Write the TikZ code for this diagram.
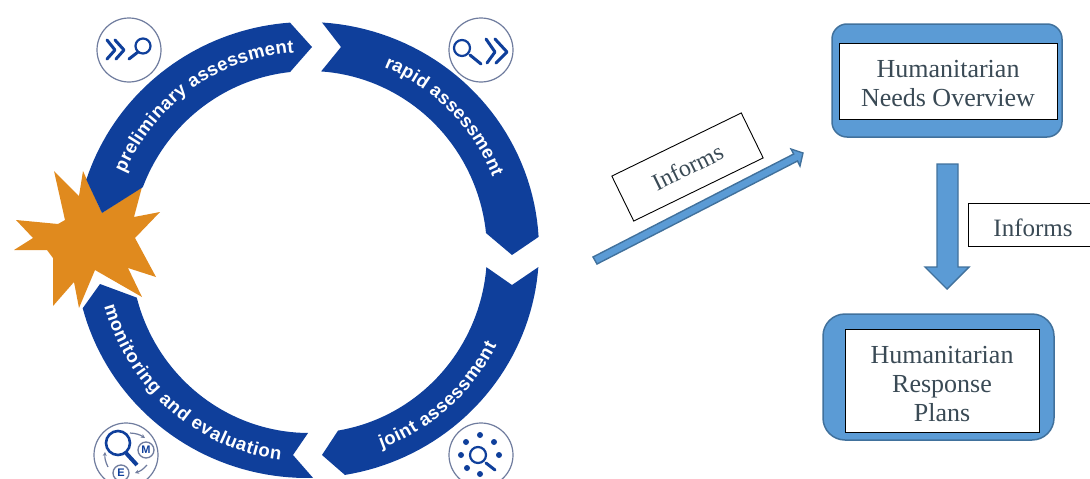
\documentclass[tikz,border=0pt]{standalone}
\usepackage{fontspec}
\setmainfont{Liberation Serif}
\setsansfont{Liberation Sans}
\usetikzlibrary{decorations.text,arrows.meta}
\definecolor{bandblue}{HTML}{0F3F9B}
\definecolor{starorange}{HTML}{E08A1E}
\definecolor{fillblue}{HTML}{5B9BD5}
\definecolor{edgeblue}{HTML}{41719C}
\definecolor{inktext}{HTML}{3A4A55}
\definecolor{ringgrey}{HTML}{6F7C9E}
\newcommand{\bandfont}{\fontsize{18.5}{18.5}\selectfont\sffamily\bfseries}
\tikzset{
  declare function={ox(\t)=307+232*cos(\t); oy(\t)=250-228*sin(\t);
    ix(\t)=309+178*cos(\t); iy(\t)=252-181*sin(\t);
    bx(\t,\r)=308+\r*cos(\t); by(\t,\r)=251-\r*sin(\t);},
  band/.style={fill=bandblue,draw=none},
  bandtext/.style={decoration={text along path,text={|\bandfont|#1},text color=white,text align={fit to path}},decorate},
  iconring/.style={draw=ringgrey,line width=1.2pt,fill=white},
  iconline/.style={draw=bandblue,line width=3pt,line cap=round,line join=round},
  iconglass/.style={draw=bandblue,line width=2.2pt},
  iconsmall/.style={draw=ringgrey,line width=1.3pt},
  iconarc/.style={draw=ringgrey,line width=1.2pt,-{Stealth[length=4pt,width=4pt]}},
  iconletter/.style={text=bandblue,font=\fontsize{11}{11}\selectfont\sffamily\bfseries,inner sep=0pt},
  outerbox/.style={draw=edgeblue,line width=1.5pt,fill=fillblue,rectangle,inner sep=0pt},
  innerbox/.style={draw=black,line width=1pt,fill=white,rectangle,inner sep=0pt,text=inktext,font=\fontsize{26}{29}\selectfont,align=center},
  blockarrow/.style={fill=fillblue,draw=edgeblue,line width=1.4pt,line join=miter},
  textbox/.style={draw=black,line width=0.9pt,fill=white,rectangle,inner sep=0pt,text=inktext,font=\fontsize{25}{28}\selectfont}
}
\begin{document}
\begin{tikzpicture}[x=1pt,y=-1pt,samples=40]
\useasboundingbox (0,0) rectangle (1090,479);
\clip (0,0) rectangle (1090,479);
% star
\fill[starorange] (54,171)--(79,196)--(83,171)--(102,213)--(142,187)--(134,217)--(160,212)--(135,238)--(156,277)--(128,268)--(142,297)--(95,270)--(79,308)--(74,282)--(53,306)--(53,258)--(47,250)--(14,250)--(33,238)--(16,220)--(58,224)--(65,220)--cycle;
% bands
\fill[band] plot[domain=162:94.2] ({ox(\x)},{oy(\x)}) -- (312,47) -- plot[domain=96.1:159] ({ix(\x)},{iy(\x)}) -- (102,213) -- cycle;
\fill[band] plot[domain=86.3:3.3] ({ox(\x)},{oy(\x)}) -- (512,255) -- plot[domain=6:86.1] ({ix(\x)},{iy(\x)}) -- (341,47) -- cycle;
\fill[band] plot[domain=-4.3:-80.6] ({ox(\x)},{oy(\x)}) -- (322,455) -- plot[domain=-80.6:-4.8] ({ix(\x)},{iy(\x)}) -- (512,285) -- cycle;
\fill[band] plot[domain=-88.5:-165.2] ({ox(\x)},{oy(\x)}) -- (100,284) -- plot[domain=-165.4:-90.3] ({ix(\x)},{iy(\x)}) -- (293,455) -- cycle;
% band texts
\path[bandtext={preliminary assessment}] plot[domain=157:94] ({bx(\x,199)},{by(\x,199)});
\path[bandtext={rapid assessment}] plot[domain=67.5:21.8] ({bx(\x,199)},{by(\x,199)});
\path[bandtext={joint assessment}] plot[domain=-69.6:-26.6] ({bx(\x,211)},{by(\x,211)});
\path[bandtext={monitoring and evaluation}] plot[domain=195.2:262.5] ({bx(\x,211)},{by(\x,211)});
% icon 1
\draw[iconring] (129,50) circle[radius=32pt];
\draw[iconline] (107,40)--(115,50)--(107,59);
\draw[iconline] (115,40)--(124,50)--(116,59);
\draw[iconglass] (143,46) circle[radius=7.5pt];
\draw[iconline] (138,52)--(129,59);
% icon 2
\draw[iconring] (481,50) circle[radius=32pt];
\draw[iconglass] (462,48) circle[radius=8pt];
\draw[iconline] (470,55)--(481,64);
\draw[iconline] (486,39)--(495,52)--(487,63);
\draw[iconline] (495,39)--(507,52)--(496,63);
% icon 3
\draw[iconring] (126,455) circle[radius=32pt];
\draw[draw=bandblue,line width=2.6pt] (118,443) circle[radius=12pt];
\draw[bandblue,line width=4pt] (126,453)--(137,465);
\draw[iconsmall] (146,450) circle[radius=8pt];
\node[iconletter] (mlabel) at (146,450) {M};
\draw[iconsmall] (121,473) circle[radius=8pt];
\node[iconletter] (elabel) at (121,473) {E};
\draw[iconarc] (130,433) to[bend left=15] (145,438);
\draw[iconarc] (147,465) to[bend left=15] (135,473);
\draw[iconarc] (108,467) to[bend left=15] (105,452);
% icon 4
\draw[iconring] (481,455) circle[radius=32pt];
\draw[iconglass] (478,455) circle[radius=8pt];
\draw[iconline] (486,463)--(495,470);
\foreach \p in {(480,435),(494,442),(499,455),(480,474),(467,468),(461,455),(466,442)}
  \fill[bandblue] \p circle[radius=3pt];
% right side boxes
\node[outerbox,minimum width=230pt,minimum height=113pt,rounded corners=15pt] (hnoback) at (947,80.5) {};
\node[innerbox,minimum width=218pt,minimum height=76pt] (hno) at (948,81) {\rule{0pt}{22pt}Humanitarian\\Needs Overview};
\node[outerbox,minimum width=231pt,minimum height=126pt,rounded corners=22pt] (hrpback) at (938.5,377) {};
\node[innerbox,minimum width=194pt,minimum height=103pt] (hrp) at (942,380.5) {\rule{0pt}{25pt}Humanitarian\\Response\\Plans};
% block arrows
\draw[blockarrow] (937,164)--(958,164)--(958,267)--(969,267)--(947,289)--(925,267)--(937,267)--cycle;
\draw[blockarrow] (593,257)--(793.7,154)--(791,149)--(803,153)--(800,166)--(797.5,161)--(597,264)--cycle;
% informs
\node[textbox,minimum width=130pt,minimum height=43pt] (informsb) at (1033,224.5) {\rule{0pt}{24.5pt}Informs};
\node[textbox,rotate=26,minimum width=144pt,minimum height=50pt,font=\fontsize{24}{28}\selectfont] (informsa) at (687.5,167) {Informs};
\end{tikzpicture}
\end{document}
